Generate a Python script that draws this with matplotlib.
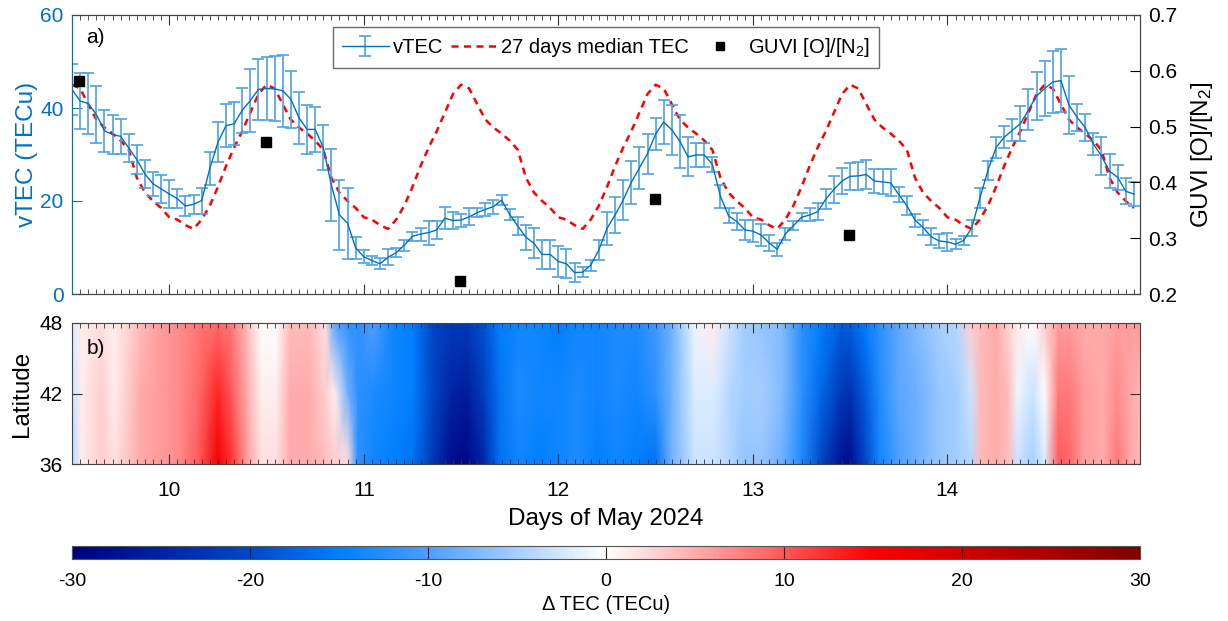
import numpy as np
import matplotlib
matplotlib.use("Agg")
import matplotlib.pyplot as plt
from matplotlib.colors import LinearSegmentedColormap
from matplotlib.ticker import MultipleLocator

plt.rcParams['font.family'] = ['Liberation Sans', 'DejaVu Sans']
plt.rcParams['mathtext.fontset'] = 'custom'
plt.rcParams['mathtext.rm'] = 'Liberation Sans'
plt.rcParams['mathtext.it'] = 'Liberation Sans:italic'
plt.rcParams['axes.unicode_minus'] = False

# ---- data ----
# hourly vTEC from 9.5 May (12 UT) to 14.96 May
vtec = [44.0, 41.5, 41.0, 38.6, 35.1, 34.3, 33.9, 31.4, 28.9, 25.8, 23.7, 22.6,
        21.5, 20.5, 18.9, 19.3, 20.1, 27.0, 32.6, 36.2, 36.6, 39.5, 41.6, 44.0,
        44.2, 44.1, 43.7, 41.9, 37.9, 35.4, 35.4, 31.5, 23.4, 17.0, 15.2, 9.9,
        8.0, 7.2, 6.5, 7.9, 8.9, 10.5, 12.4, 12.9, 13.2, 13.8, 16.3, 15.8,
        15.9, 16.6, 17.5, 18.2, 18.8, 20.2, 17.1, 14.6, 12.2, 10.9, 8.5, 8.5,
        7.0, 6.5, 4.6, 4.7, 6.2, 9.5, 14.1, 17.0, 20.2, 24.0, 27.1, 30.2,
        34.4, 37.0, 35.3, 32.8, 29.5, 29.9, 29.9, 27.9, 21.0, 16.8, 15.6, 13.8,
        13.5, 12.7, 11.0, 9.6, 12.9, 14.7, 16.5, 17.0, 17.7, 20.4, 22.5, 24.3,
        25.3, 25.4, 25.7, 24.3, 24.1, 23.9, 21.4, 19.0, 15.9, 14.3, 12.3, 11.4,
        11.2, 10.7, 11.5, 14.2, 20.6, 26.6, 31.5, 33.7, 35.2, 36.6, 39.6, 42.6,
        44.2, 45.6, 45.9, 40.6, 38.0, 35.8, 32.3, 29.7, 26.4, 25.1, 22.1, 21.5]
vtec_err = [5.5, 6.0, 6.6, 6.2, 4.5, 4.2, 3.8, 3.0, 3.1, 3.1, 2.6, 3.0,
            3.0, 2.1, 2.1, 2.0, 2.8, 3.5, 4.3, 4.6, 4.6, 4.9, 6.7, 6.6,
            6.7, 7.0, 7.7, 6.1, 5.6, 5.3, 4.8, 4.8, 7.8, 7.5, 7.7, 2.4,
            1.4, 1.0, 1.2, 1.7, 0.9, 1.2, 1.0, 1.4, 2.6, 2.0, 2.4, 1.9,
            1.4, 1.8, 0.9, 1.4, 1.5, 1.1, 1.2, 1.9, 2.7, 3.2, 3.2, 3.2,
            3.3, 3.1, 2.0, 1.1, 1.2, 2.2, 3.6, 3.9, 4.3, 4.7, 4.6, 4.3,
            3.4, 4.7, 5.3, 5.7, 4.2, 2.5, 2.5, 1.6, 2.5, 1.6, 1.8, 2.1,
            2.4, 2.4, 1.7, 1.4, 1.3, 0.9, 0.9, 1.4, 1.8, 2.2, 2.9, 2.7,
            2.9, 3.0, 3.1, 2.5, 2.7, 2.9, 1.7, 2.0, 1.4, 1.6, 1.8, 1.6,
            1.9, 1.1, 1.0, 1.7, 2.2, 2.1, 2.3, 2.4, 2.4, 3.8, 4.4, 5.2,
            6.0, 6.6, 6.7, 6.2, 2.9, 3.0, 2.4, 4.1, 3.7, 2.7, 2.8, 2.5]
# 27-day median TEC, one value per UT hour (0..23), same every day
median_daily = [16.5, 16.0, 14.8, 14.0, 16.0, 19.0, 23.0, 27.5, 31.5, 35.0, 39.0, 43.0,
                45.0, 44.2, 40.8, 37.5, 35.8, 34.5, 33.0, 31.0, 25.0, 21.8, 20.0, 18.5]

guvi_day = [9.536, 10.496, 11.495, 12.497, 13.495]
guvi_on2 = [0.582, 0.473, 0.223, 0.371, 0.305]

# delta TEC map: time nodes and values at latitudes 36, 42, 48
dtec_lat = [36, 42, 48]
dtec_time = [9.50, 9.55, 9.65, 9.72, 9.85, 9.95, 10.05, 10.15, 10.25, 10.32, 10.40,
             10.47, 10.55, 10.62, 10.72, 10.80, 10.85, 10.92, 10.97, 11.05, 11.15,
             11.25, 11.35, 11.45, 11.53, 11.62, 11.70, 11.80, 11.90, 12.00, 12.10,
             12.20, 12.30, 12.40, 12.50, 12.58, 12.70, 12.80, 12.88, 12.95, 13.05,
             13.15, 13.25, 13.35, 13.45, 13.50, 13.58, 13.65, 13.75, 13.85, 13.95,
             14.05, 14.12, 14.17, 14.25, 14.31, 14.36, 14.44, 14.50, 14.57, 14.63,
             14.70, 14.80, 14.87, 14.95, 15.00]
dtec_36 = [-4, 1, 3, 2, 5, 6, 7, 10, 16, 12, 6,
           2, 2, 5, 5, 4, 3, 2, -12, -14, -15,
           -16, -22, -28, -29, -24, -16, -14, -15, -14, -13,
           -15, -14, -15, -16, -8, -3, -3, -4, -6, -6,
           -8, -13, -20, -27, -28, -20, -14, -10, -8, -6,
           -5, -4, 4, 5, 4, -3, -5, -2, 10, 9,
           6, 5, 8, 5, 4]
dtec_42 = [-3, 1, 3, 1, 5, 6, 7, 9, 13, 10, 5,
           1, 1, 5, 5, 3, 1, -8, -12, -13, -14,
           -15, -20, -25, -26, -21, -16, -13, -14, -14, -13,
           -14, -13, -14, -12, -8, -2, -2, -4, -5, -5,
           -7, -12, -17, -22, -23, -18, -13, -9, -8, -6,
           -5, -3, 4, 5, 4, -1, -3, 0, 8, 8,
           6, 5, 7, 5, 4]
dtec_48 = [-2, 1, 2, 1, 4, 6, 7, 8, 9, 8, 4,
           0, 0, 4, 4, 2, -9, -12, -12, -10, -14,
           -15, -20, -22, -22, -19, -15, -14, -14, -15, -14,
           -14, -13, -13, -11, -8, -1, 1, -3, -5, -6,
           -7, -12, -15, -18, -18, -15, -12, -9, -7, -5,
           -4, 3, 4, 5, 3, 1, 0, 3, 6, 6,
           5, 5, 6, 6, 6]

hours = np.arange(len(vtec))
tec_time = 9.5 + hours / 24
median_tec = np.tile(median_daily, 7)[12:12 + len(vtec)]

blue = '#0072BD'
err_blue = '#4DA3E0'

cmap = LinearSegmentedColormap.from_list('dtec', [
    (0.0, (0.0, 0.0, 0.5)),
    (1 / 6, (0.0, 0.28, 0.78)),
    (0.25, (0.0, 0.5, 1.0)),
    (1 / 3, (0.3, 0.62, 1.0)),
    (0.5, (1.0, 1.0, 1.0)),
    (2 / 3, (1.0, 0.35, 0.35)),
    (0.75, (1.0, 0.0, 0.0)),
    (5 / 6, (0.82, 0.0, 0.0)),
    (1.0, (0.5, 0.0, 0.0)),
])

fig = plt.figure(figsize=(12.28, 6.21), dpi=100)
W, H = 1228, 621
left, right = 72 / W, 1140 / W
day_ticks = [10, 11, 12, 13, 14]

# ---- panel a ----
ax = fig.add_axes([left, 1 - 294 / H, right - left, 279 / H])
eb = ax.errorbar(tec_time, vtec, yerr=vtec_err, fmt='-', color=blue, lw=1.0,
                 ecolor=err_blue, elinewidth=1.2, capsize=4.5, capthick=1.2,
                 label='vTEC', zorder=3)
med, = ax.plot(tec_time, median_tec, color='red', lw=1.8, dashes=(2.8, 2.2),
               label='27 days median TEC', zorder=2)
ax.set_xlim(9.5, 14.99)
ax.set_ylim(0, 60)
ax.set_yticks([0, 20, 40, 60])
ax.set_xticks(day_ticks)
ax.xaxis.set_minor_locator(MultipleLocator(1 / 24))
ax.tick_params(axis='x', which='both', direction='in', top=True, labelbottom=False)
ax.tick_params(axis='x', which='major', length=7, color='#333333')
ax.tick_params(axis='x', which='minor', length=3.5, color='#333333')
ax.tick_params(axis='y', direction='in', length=7, colors=blue, labelsize=15, pad=6)
ax.set_ylabel('vTEC (TECu)', color=blue, fontsize=17.5, labelpad=2)
ax.spines['left'].set_color(blue)
for s in ['top', 'bottom', 'right']:
    ax.spines[s].set_color('#444444')
ax.text(0.013, 0.9, 'a)', transform=ax.transAxes, fontsize=15)

ax2 = ax.twinx()
sq, = ax2.plot(guvi_day, guvi_on2, 's', color='black', ms=7.5,
               label='GUVI [O]/[N$_2$]', zorder=4)
ax2.set_ylim(0.2, 0.7)
ax2.set_yticks([0.2, 0.3, 0.4, 0.5, 0.6, 0.7])
ax2.tick_params(axis='y', direction='in', length=7, labelsize=15, pad=6)
ax2.set_ylabel('GUVI [O]/[N$_2$]', fontsize=17.5, labelpad=8)
ax2.spines['left'].set_color(blue)
for s in ['top', 'bottom', 'right']:
    ax2.spines[s].set_color('#444444')
leg = ax2.legend([eb, med, sq], ['vTEC', '27 days median TEC', 'GUVI [O]/[N$_2$]'],
                 loc='upper center', ncol=3, fontsize=14.5, frameon=True,
                 fancybox=False, edgecolor='#444444', handlelength=2.3,
                 handletextpad=0.2, columnspacing=0.4, borderpad=0.45,
                 borderaxespad=0.6, markerscale=0.8)
leg.get_frame().set_linewidth(1.0)

# ---- panel b ----
axb = fig.add_axes([left, 1 - 464 / H, right - left, 141 / H])
T, L = np.meshgrid(dtec_time, dtec_lat)
Z = np.array([dtec_36, dtec_42, dtec_48])
mesh = axb.pcolormesh(T, L, Z, cmap=cmap, vmin=-30, vmax=30, shading='gouraud')
axb.set_xlim(9.5, 14.99)
axb.set_ylim(36, 48)
axb.set_yticks([36, 42, 48])
axb.set_xticks(day_ticks)
axb.xaxis.set_minor_locator(MultipleLocator(1 / 24))
axb.tick_params(axis='x', which='both', direction='in', top=True, labelsize=15, pad=12)
axb.tick_params(axis='x', which='major', length=7, color='#333333')
axb.tick_params(axis='x', which='minor', length=3.5, color='#333333')
axb.tick_params(axis='y', direction='in', right=True, length=7, labelsize=15, pad=7,
                color='#333333')
axb.set_xlabel('Days of May 2024', fontsize=17.5, labelpad=6)
axb.set_ylabel('Latitude', fontsize=17.5, labelpad=4)
for s in axb.spines.values():
    s.set_color('#444444')
axb.text(0.014, 0.78, 'b)', transform=axb.transAxes, fontsize=15)

# ---- colorbar ----
cax = fig.add_axes([left, 1 - 559 / H, right - left, 13 / H])
cb = fig.colorbar(mesh, cax=cax, orientation='horizontal')
cb.set_ticks([-30, -20, -10, 0, 10, 20, 30])
cb.ax.tick_params(direction='in', length=9, labelsize=14, pad=10, color='#222222')
cb.outline.set_edgecolor('#555555')
cb.set_label('Δ TEC (TECu)', fontsize=14.5, labelpad=4)

fig.savefig('out.png', dpi=100)
